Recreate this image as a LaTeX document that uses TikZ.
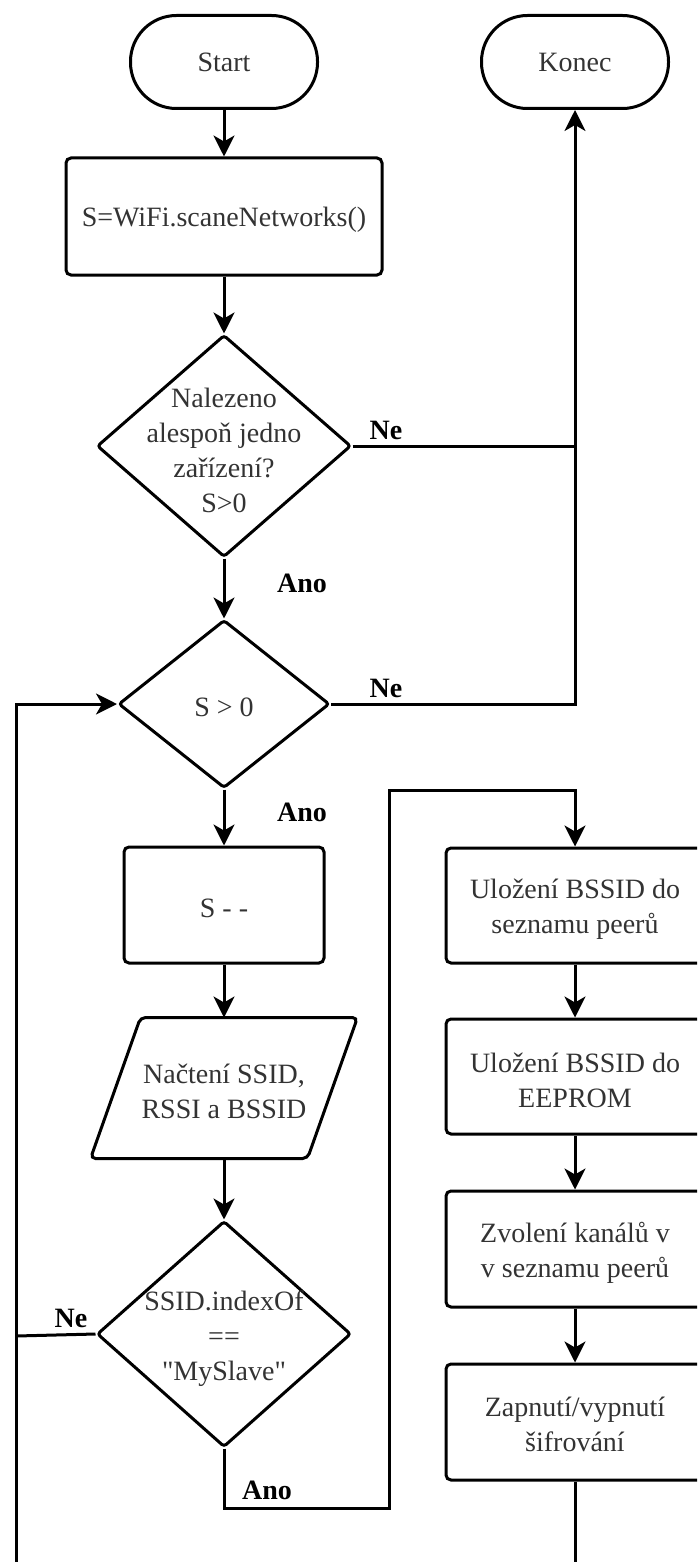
\documentclass[tikz,border=0pt]{standalone}
\usepackage{fontspec}
\setmainfont{Liberation Serif}[Ligatures=TeXOff]
\usetikzlibrary{arrows.meta,shapes.geometric}

\begin{document}
\begin{tikzpicture}[x=1pt,y=-1pt,line width=3pt,
  every node/.style={font=\fontsize{28}{35}\selectfont,text=black!80,align=center,inner sep=0pt},
  terminal/.style={draw,rectangle,rounded corners=46pt,minimum width=187pt,minimum height=93pt},
  process/.style={draw,rectangle,rounded corners=5pt},
  decision/.style={draw,diamond,rounded corners=3pt},
  lbl/.style={font=\fontsize{28}{35}\selectfont\bfseries,text=black},
  arr/.style={-{Stealth[length=21pt,width=21pt,inset=6pt]}}
]
\path[use as bounding box] (0,0) rectangle (697,1562);
\clip (0,0) rectangle (697,1562);

% terminals
\node[terminal] (start) at (224,62) {Start};
\node[terminal] (konec) at (575,62) {Konec};

% main column
\node[process,minimum width=316pt,minimum height=117pt] (scan) at (224,216.5) {};
\node (scantxt) at (224,220) {S=WiFi.scaneNetworks()};

\node[decision,minimum width=254pt,minimum height=222pt] (d1) at (224,446) {};
\node (d1txt) at (224,450) {Nalezeno\\alespoň jedno\\zařízení?\\S>0};

\node[decision,minimum width=211pt,minimum height=168pt] (d2) at (224,704) {};
\node (d2txt) at (224,707) {S > 0};

\node[process,minimum width=200pt,minimum height=116pt] (dec) at (224,905) {};
\node (dectxt) at (224,908) {S - -};

% input/output parallelogram, slanted by 50pt
\node[minimum width=264pt,minimum height=138pt] (read) at (224,1088) {};
\draw[rounded corners=5pt] ([xshift=50pt]read.north west) -- (read.north east)
  -- ([xshift=-50pt]read.south east) -- (read.south west) -- cycle;
\node (readtxt) at (224,1091) {Načtení SSID,\\RSSI a BSSID};

\node[decision,minimum width=254pt,minimum height=226pt] (d3) at (224,1334) {};
\node (d3txt) at (224,1339) {SSID.indexOf\\==\\"MySlave"};

% right column
\node[process,minimum width=258pt,minimum height=115pt] (r1) at (575,905.5) {};
\node (r1txt) at (575,909) {Uložení BSSID do\\seznamu peerů};
\node[process,minimum width=258pt,minimum height=115pt] (r2) at (575,1076.5) {};
\node (r2txt) at (575,1080) {Uložení BSSID do\\EEPROM};
\node[process,minimum width=258pt,minimum height=116pt] (r3) at (575,1249) {};
\node (r3txt) at (575,1253) {Zvolení kanálů v\\v seznamu peerů};
\node[process,minimum width=258pt,minimum height=116pt] (r4) at (575,1422) {};
\node (r4txt) at (575,1424) {Zapnutí/vypnutí\\šifrování};

% routing points
\coordinate (loopbot) at (16,1575);
\coordinate (loopl) at (16,704);
\coordinate (ne3) at (16,1336);
\coordinate (anob) at (224,1508);
\coordinate (anor) at (389,1508);
\coordinate (anot) at (389,790);
\coordinate (endbot) at (575,1575);

% connectors
\draw[arr] (start) -- (scan);
\draw[arr] (scan) -- (d1);
\draw (d1.east) -- (konec.south |- d1.east);
\draw[arr] (d2.east) -| (konec.south);
\draw[arr] (d1) -- (d2);
\draw[arr] (d2) -- (dec);
\draw[arr] (dec) -- (read.north);
\draw[arr] (read.south) -- (d3);
\draw (d3.west) -- (ne3);
\draw[arr] (loopbot) -- (loopl) -- (d2.west);
\draw[arr] (d3.south) -- (anob) -- (anor) -- (anot) -| (r1.north);
\draw[arr] (r1) -- (r2);
\draw[arr] (r2) -- (r3);
\draw[arr] (r3) -- (r4);
\draw (r4.south) -- (endbot);

% branch labels
\node[lbl] (ne1) at (386,430) {Ne};
\node[lbl] (ne2) at (386,688) {Ne};
\node[lbl] (ne3l) at (71,1318) {Ne};
\node[lbl] (ano1) at (302,583) {Ano};
\node[lbl] (ano2) at (302,812) {Ano};
\node[lbl] (ano3) at (267,1490) {Ano};
\end{tikzpicture}
\end{document}
